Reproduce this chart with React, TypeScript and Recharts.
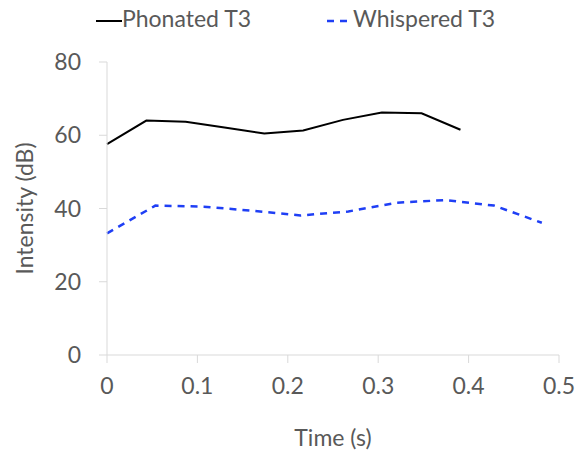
import React from "react";
import { LineChart, Line, XAxis, YAxis, Label } from "recharts";

const phonatedTime = [0, 0.0435, 0.087, 0.13, 0.174, 0.217, 0.261, 0.304, 0.348, 0.391];
const phonatedIntensity = [57.6, 64.0, 63.7, 62.1, 60.5, 61.3, 64.2, 66.2, 66.0, 61.5];
const whisperedTime = [0, 0.0535, 0.107, 0.16, 0.214, 0.267, 0.321, 0.374, 0.428, 0.481];
const whisperedIntensity = [33.2, 40.8, 40.5, 39.4, 38.1, 39.2, 41.6, 42.3, 40.8, 36.1];
const xTicks = [0, 0.1, 0.2, 0.3, 0.4, 0.5];
const yTicks = [0, 20, 40, 60, 80];

const phonatedData = phonatedTime.map((t, i) => ({ t, v: phonatedIntensity[i] }));
const whisperedData = whisperedTime.map((t, i) => ({ t, v: whisperedIntensity[i] }));

const FONT = "Lato, 'Open Sans', sans-serif";
const TEXT = "#595959";
const GRID = "#d9d9d9";
const BLUE = "#1f3ff5";
const FS = 23;

const YTitle = (props: any) => {
  const vb = props.viewBox || {};
  const cy = (vb.y || 0) + (vb.height || 0) / 2;
  const cx = 24;
  return (
    <text
      x={cx}
      y={cy}
      transform={`rotate(-90, ${cx}, ${cy})`}
      textAnchor="middle"
      dominantBaseline="central"
      fill={TEXT}
      fontSize={FS}
      fontFamily={FONT}
    >
      Intensity (dB)
    </text>
  );
};

export default function App() {
  return (
    <div style={{ position: "absolute", left: 0, top: 0, width: 578, height: 450, background: "#fff", fontFamily: FONT }}>
      <div style={{ position: "absolute", top: 4, left: 0, width: 578, height: 32, fontSize: FS, color: TEXT, whiteSpace: "nowrap" }}>
        <svg width={26} height={10} style={{ position: "absolute", left: 96, top: 12 }}>
          <line x1={0} y1={5} x2={26} y2={5} stroke="#000" strokeWidth={2} />
        </svg>
        <span style={{ position: "absolute", left: 122, top: 0 }}>Phonated T3</span>
        <svg width={22} height={10} style={{ position: "absolute", left: 327, top: 12 }}>
          <line x1={0} y1={5} x2={22} y2={5} stroke={BLUE} strokeWidth={2.5} strokeDasharray="7 6" />
        </svg>
        <span style={{ position: "absolute", left: 353, top: 0 }}>Whispered T3</span>
      </div>
      <LineChart width={578} height={450} margin={{ top: 62, right: 19, bottom: 0, left: 0 }}>
        <XAxis
          type="number"
          dataKey="t"
          domain={[0, 0.5]}
          ticks={xTicks}
          allowDuplicatedCategory={false}
          height={95}
          stroke={GRID}
          tickSize={8}
          tickMargin={15}
          tick={{ fill: TEXT, fontSize: FS, fontFamily: FONT }}
        >
          <Label value="Time (s)" position="insideBottom" offset={4} style={{ fill: TEXT, fontSize: FS, fontFamily: FONT }} />
        </XAxis>
        <YAxis
          type="number"
          dataKey="v"
          domain={[0, 80]}
          ticks={yTicks}
          width={107}
          stroke={GRID}
          tickSize={8}
          tickMargin={18}
          tick={{ fill: TEXT, fontSize: FS, fontFamily: FONT }}
        >
          <Label content={YTitle} />
        </YAxis>
        <Line data={phonatedData} dataKey="v" stroke="#000" strokeWidth={2} dot={false} isAnimationActive={false} type="linear" />
        <Line data={whisperedData} dataKey="v" stroke={BLUE} strokeWidth={2.5} strokeDasharray="7 6" dot={false} isAnimationActive={false} type="linear" />
      </LineChart>
    </div>
  );
}
